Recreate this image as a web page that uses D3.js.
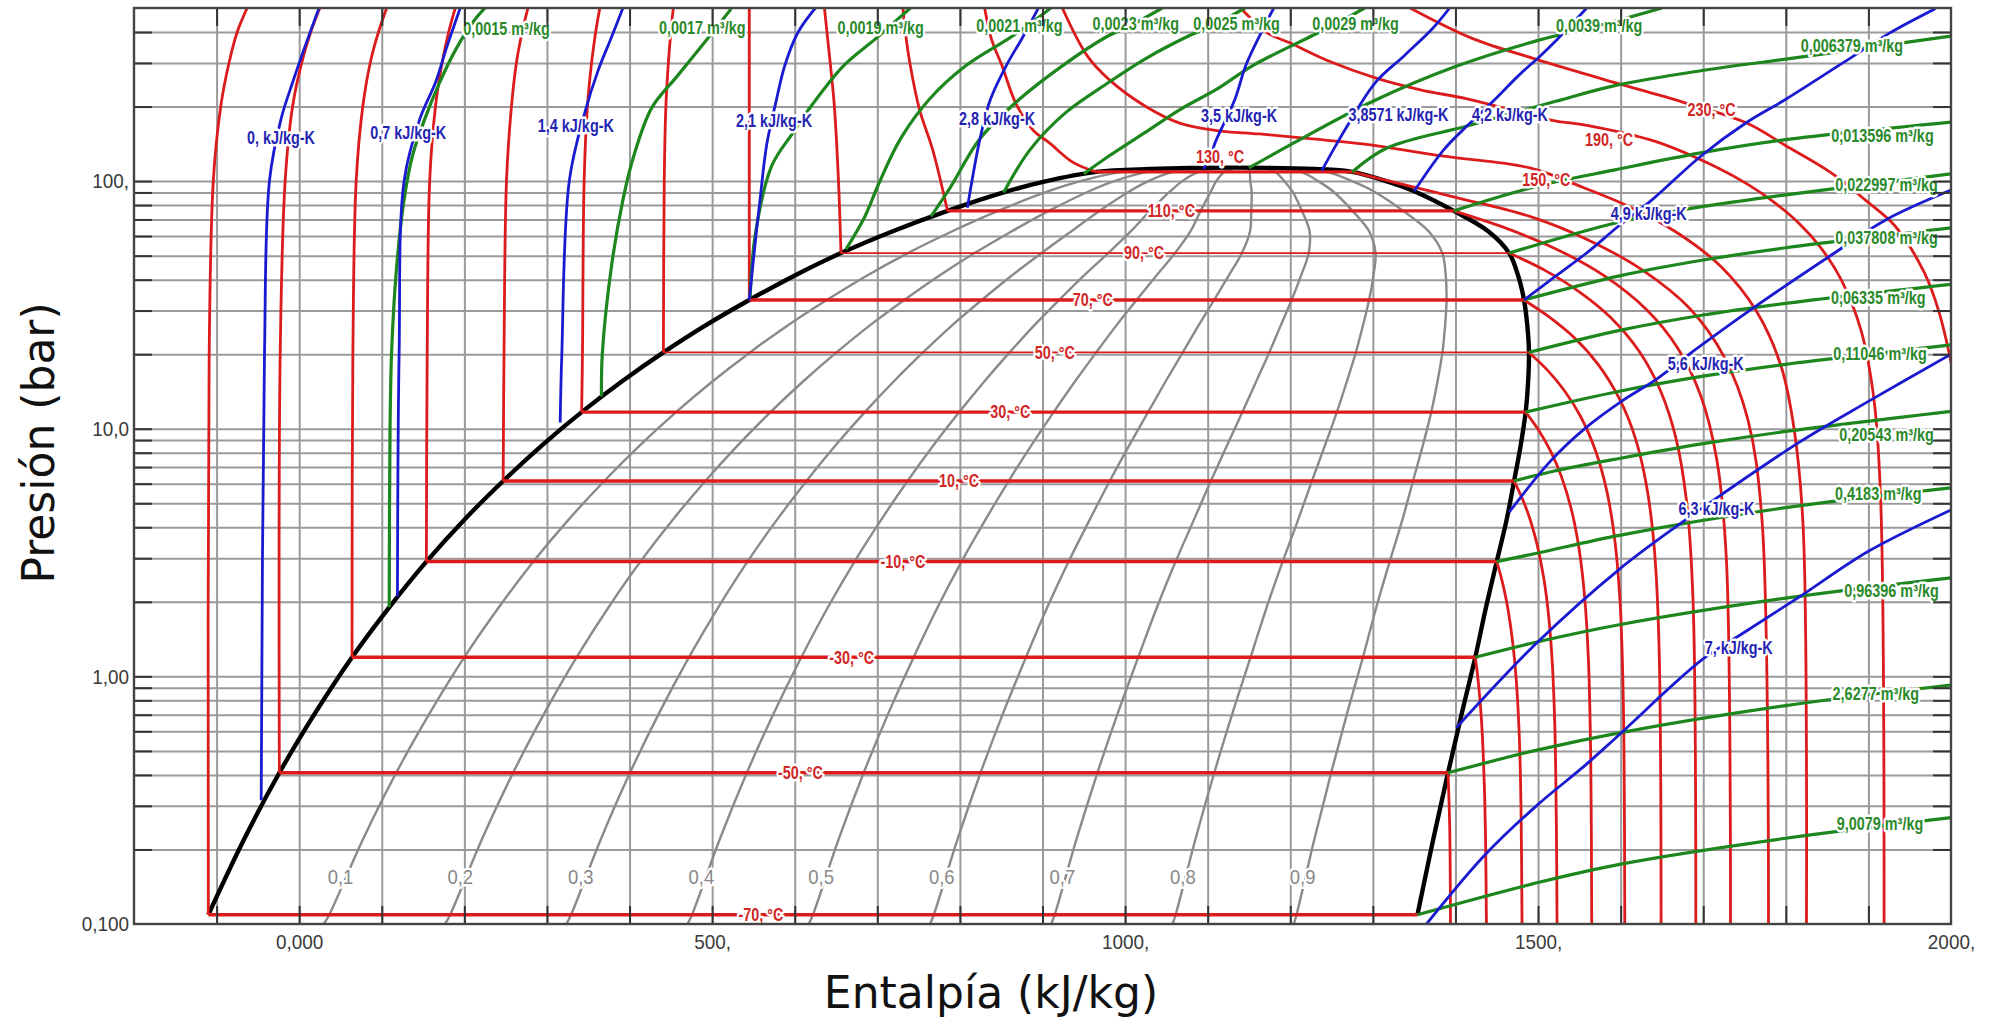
<!DOCTYPE html>
<html>
<head>
<meta charset="utf-8">
<script src="https://cdn.jsdelivr.net/npm/d3@7"></script>
<style>
  body { margin: 0; background: #fff; }
  svg { display: block; }
  .lbl {
    font-family: "Liberation Sans", Arial, sans-serif;
    font-weight: bold;
    font-size: 18px;
    paint-order: stroke;
    stroke: #fff;
    stroke-width: 5px;
    stroke-linejoin: round;
  }
  .tick text {
    font-family: "Liberation Sans", Arial, sans-serif;
    font-size: 21px;
    fill: #3a3a3a;
  }
</style>
</head>
<body>
<div id="chart"></div>
<script>
// saturation table: [T °C, P bar, h liquid, h vapour]
const satTable = [
  [-71.7, 0.1, -117, 1351],
  [-70, 0.109, -110, 1354],
  [-60, 0.219, -67, 1373],
  [-50, 0.408, -24, 1391],
  [-40, 0.717, 20, 1408],
  [-30, 1.195, 64, 1424],
  [-20, 1.901, 109, 1437],
  [-10, 2.908, 154, 1450],
  [0, 4.294, 200, 1462],
  [10, 6.15, 247, 1471],
  [20, 8.57, 294, 1479],
  [30, 11.67, 342, 1485],
  [40, 15.55, 391, 1488],
  [50, 20.33, 441, 1489],
  [60, 26.14, 492, 1487],
  [70, 33.1, 545, 1483],
  [80, 41.4, 599, 1476],
  [90, 51.2, 656, 1465],
  [100, 62.6, 718, 1440],
  [110, 75.8, 785, 1398],
  [120, 91.0, 858, 1350],
  [125, 99.5, 902, 1318],
  [130, 108.9, 965, 1275],
  [131.5, 111.9, 1030, 1230],
  [132.25, 113.3, 1130, 1130]
];

const qualities = [0.1, 0.2, 0.3, 0.4, 0.5, 0.6, 0.7, 0.8, 0.9];
const qualityLabels = [
  ['0,1', 50, 0.155], ['0,2', 195, 0.155], ['0,3', 341, 0.155], ['0,4', 487, 0.155],
  ['0,5', 632, 0.155], ['0,6', 778, 0.155], ['0,7', 924, 0.155], ['0,8', 1070, 0.155],
  ['0,9', 1215, 0.155]
];

// isotherms, compressed-liquid branch (from saturated liquid upward)
const tempLiquid = [
  [-70, [[-110, 0.109], [-109, 20], [-104, 100], [-95, 200], [-85, 300], [-75, 400], [-63, 500]]],
  [-50, [[-24, 0.408], [-23, 20], [-17, 100], [-8, 200], [3, 300], [14, 400], [25, 500]]],
  [-30, [[64, 1.195], [65, 20], [69, 100], [77, 200], [86, 300], [96, 400], [106, 500]]],
  [-10, [[154, 2.908], [155, 20], [158, 100], [165, 200], [173, 300], [181, 400], [189, 500]]],
  [10, [[247, 6.15], [248, 20], [251, 100], [257, 200], [263, 300], [270, 400], [277, 500]]],
  [30, [[342, 11.67], [343, 20], [345, 100], [349, 200], [354, 300], [359, 400], [364, 500]]],
  [50, [[441, 20.33], [442, 100], [444, 200], [447, 300], [450, 400], [453, 500]]],
  [70, [[545, 33.1], [545, 100], [545, 500]]],
  [90, [[656, 51.2], [653, 100], [648, 200], [643, 300], [639, 400], [636, 500]]],
  [110, [[785, 75.8], [767, 134], [751, 195], [740, 292], [734, 399], [731, 500]]],
  [130, [[965, 108.9], [937, 119], [908, 143], [889, 160], [868, 205], [851, 292], [838, 376], [830, 500]]]
];

// isotherms, superheated vapour branch (from saturated vapour downward)
const tempVapor = [
  [-50, [[1391, 0.408], [1393, 0.25], [1394, 0.1]]],
  [-30, [[1424, 1.195], [1426.7, 1.016], [1429.2, 0.837], [1431.6, 0.657], [1433.7, 0.478], [1435.3, 0.335], [1436.5, 0.215], [1437.5, 0.1]]],
  [-10, [[1450, 2.908], [1455.9, 2.47], [1461.5, 2.04], [1466.7, 1.6], [1471.6, 1.163], [1475.1, 0.814], [1477.7, 0.523], [1479.4, 0.291], [1480.6, 0.1]]],
  [10, [[1471, 6.15], [1480.9, 5.23], [1490.3, 4.31], [1499.1, 3.38], [1507.2, 2.46], [1513.1, 1.72], [1517.4, 1.107], [1520.4, 0.615], [1522.2, 0.246], [1523, 0.1]]],
  [30, [[1485, 11.67], [1500.2, 9.92], [1514.7, 8.17], [1528.2, 6.42], [1540.7, 4.67], [1549.7, 3.27], [1556.4, 2.1], [1561, 1.167], [1563.8, 0.467], [1565, 0.1]]],
  [50, [[1489, 20.33], [1511.1, 17.28], [1532, 14.23], [1551.7, 11.18], [1569.7, 8.13], [1582.8, 5.69], [1592.5, 3.66], [1599.2, 2.03], [1603.2, 0.813], [1605, 0.1]]],
  [70, [[1483, 33.1], [1514.6, 28.1], [1544.6, 23.2], [1572.7, 18.2], [1598.6, 13.2], [1617.3, 9.27], [1631.1, 5.96], [1640.7, 3.31], [1646.5, 1.32], [1649, 0.1]]],
  [90, [[1465, 51.2], [1508.9, 43.5], [1549.5, 35.8], [1587.6, 28.2], [1622.6, 20.5], [1648, 14.3], [1666.8, 9.2], [1679.7, 5.12], [1687.6, 2.05], [1691, 0.1]]],
  [110, [[1398, 75.8], [1461.8, 64.4], [1522.3, 53.1], [1579, 41.7], [1631.2, 30.3], [1669, 21.2], [1697, 13.6], [1716.2, 7.58], [1727.9, 3.03], [1733, 0.1]]],
  [130, [[1275, 108.9], [1320, 100], [1400, 86], [1490, 72], [1560, 58], [1627, 43.6], [1684, 30.5], [1725, 19.6], [1754, 10.9], [1771, 4.36], [1779, 0.1]]]
];

// supercritical isotherms
const tempSuper = [
  [150, [[924, 500], [954, 321], [980, 258], [1024, 201], [1067, 171], [1111, 160], [1163, 155], [1227, 148], [1290, 141], [1386, 126], [1490, 113], [1552, 95], [1610, 79], [1668, 62], [1722, 45], [1764, 30], [1794, 18], [1810, 10], [1821, 4], [1825, 0.1]]],
  [190, [[1140, 500], [1172, 397], [1200, 361], [1248, 304], [1303, 261], [1359, 233], [1414, 215], [1517, 176], [1559, 168], [1641, 145], [1718, 113], [1754, 97], [1784, 83], [1817, 67], [1842, 54], [1867, 40], [1891, 25], [1907, 12.9], [1915, 5], [1919, 0.1]]],
  [230, [[1345, 500], [1421, 376], [1497, 311], [1593, 250], [1676, 208], [1752, 172], [1800, 139], [1855, 108], [1896, 84], [1932, 66], [1968, 42.5], [1985, 30], [1998, 20], [2010, 12]]]
];

const tempLabels = [
  ['-70, °C', 559, 0.109], ['-50, °C', 607, 0.408], ['-30, °C', 669, 1.195],
  ['-10, °C', 731, 2.908], ['10, °C', 799, 6.15], ['30, °C', 861, 11.67],
  ['50, °C', 915, 20.33], ['70, °C', 961, 33.1], ['90, °C', 1023, 51.2],
  ['110, °C', 1056, 75.8], ['130, °C', 1115, 126], ['150, °C', 1510, 101],
  ['190, °C', 1586, 147], ['230, °C', 1710, 195]
];

// constant entropy lines (kJ/kg-K)
const entropyLines = [
  [0, [[-46, 0.316], [-42, 20], [-36, 100], [-22, 178], [-8, 250], [6, 342], [24, 500]]],
  [0.7, [[119, 2.1], [121, 20], [127, 100], [146, 178], [165, 250], [178, 342], [195, 500]]],
  [1.4, [[316, 10.6], [318, 20], [327, 100], [346, 190], [362, 280], [378, 380], [392, 500]]],
  [2.1, [[545, 33.1], [553, 60], [558, 84], [566, 140], [577, 207], [588, 293], [604, 399], [625, 500]]],
  [2.8, [[809, 78], [820, 126], [826, 157], [837, 214], [856, 292], [876, 381], [895, 500]]],
  [3.5, [[1095, 112], [1105, 130], [1109, 143], [1133, 214], [1146, 292], [1163, 387], [1180, 500]]],
  [3.8571, [[1238, 110], [1255, 139], [1269, 167], [1303, 250], [1338, 321], [1372, 412], [1393, 500]]],
  [4.2, [[1350, 91], [1386, 134], [1414, 167], [1448, 214], [1476, 266], [1503, 321], [1524, 376], [1559, 500]]],
  [4.9, [[1483, 33.1], [1520, 41], [1558, 51], [1598, 66], [1638, 84], [1697, 126], [1752, 172], [1800, 214], [1869, 300], [1925, 395], [1981, 497]]],
  [5.6, [[1465, 4.6], [1515, 7.4], [1558, 10.1], [1601, 12.9], [1644, 15.9], [1690, 20.8], [1756, 30], [1858, 51], [1922, 70], [2000, 92]]],
  [6.3, [[1401, 0.62], [1498, 1.36], [1598, 2.7], [1674, 4.18], [1720, 5.36], [1817, 8.85], [1900, 12.9], [2000, 20]]],
  [7, [[1365, 0.1], [1435, 0.189], [1498, 0.3], [1558, 0.44], [1598, 0.58], [1699, 1.17], [1749, 1.5], [1817, 2.1], [1900, 3.2], [2000, 4.7]]]
];

const entropyLabels = [
  ['0, kJ/kg-K', -22, 150], ['0,7 kJ/kg-K', 132, 157], ['1,4 kJ/kg-K', 335, 167],
  ['2,1 kJ/kg-K', 575, 175], ['2,8 kJ/kg-K', 845, 178], ['3,5 kJ/kg-K', 1138, 183],
  ['3,8571 kJ/kg-K', 1331, 186], ['4,2 kJ/kg-K', 1466, 186], ['4,9 kJ/kg-K', 1634, 74],
  ['5,6 kJ/kg-K', 1703, 18.3], ['6,3 kJ/kg-K', 1716, 4.75], ['7, kJ/kg-K', 1743, 1.31]
];

// constant specific volume lines (m³/kg)
const volumeLines = [
  [0.0015, [[109, 1.9], [110, 10], [112, 20.8], [118, 45], [127, 84], [137, 126], [152, 178], [170, 250], [190, 342], [213, 450], [225, 500]]],
  [0.0017, [[366, 13.5], [367, 20], [378, 45], [392, 84], [405, 126], [427, 198], [458, 266], [491, 364], [523, 496]]],
  [0.0019, [[546, 34], [552, 60], [572, 115], [598, 157], [620, 201], [659, 292], [698, 376], [740, 500]]],
  [0.0021, [[662, 53], [685, 72], [702, 98], [728, 148], [763, 214], [807, 292], [859, 376], [882, 424], [910, 500]]],
  [0.0023, [[765, 72], [789, 95], [824, 148], [872, 214], [924, 292], [976, 380], [1010, 431], [1045, 500]]],
  [0.0025, [[853, 90], [885, 134], [928, 189], [980, 250], [1024, 311], [1078, 387], [1110, 431], [1145, 500]]],
  [0.0029, [[950, 107], [980, 126], [1024, 157], [1067, 195], [1111, 235], [1154, 292], [1227, 387], [1255, 431], [1290, 500]]],
  [0.0039, [[1150, 113], [1200, 140], [1300, 210], [1400, 290], [1500, 370], [1574, 425], [1650, 500]]],
  [0.006379, [[1275, 108.9], [1317, 136], [1414, 167], [1517, 208], [1593, 243], [1697, 279], [1800, 311], [2000, 385]]],
  [0.013596, [[1398, 75.8], [1497, 95], [1593, 111], [1697, 130], [1800, 147], [2000, 173]]],
  [0.022997, [[1465, 51.2], [1600, 68.5], [1700, 79], [1800, 88], [2000, 107]]],
  [0.037808, [[1483, 33.1], [1600, 41.5], [1700, 48], [1800, 53.8], [2000, 64.7]]],
  [0.06335, [[1489, 20.33], [1600, 25], [1700, 28.8], [1800, 32.1], [2000, 38.3]]],
  [0.11046, [[1485, 11.67], [1600, 14.2], [1700, 16.3], [1800, 18.2], [2000, 21.8]]],
  [0.20543, [[1471, 6.15], [1520, 6.75], [1600, 7.6], [1700, 8.7], [1800, 9.75], [2000, 11.76]]],
  [0.4183, [[1450, 2.908], [1500, 3.15], [1600, 3.72], [1800, 4.8], [2000, 5.77]]],
  [0.96396, [[1424, 1.195], [1500, 1.38], [1600, 1.62], [1800, 2.07], [2000, 2.5]]],
  [2.6277, [[1391, 0.408], [1500, 0.505], [1600, 0.593], [1800, 0.762], [2000, 0.923]]],
  [9.0079, [[1354, 0.109], [1500, 0.147], [1600, 0.1745], [1800, 0.222], [2000, 0.269]]]
];

const volumeLabels = [
  ['0,0015 m³/kg', 251, 412], ['0,0017 m³/kg', 488, 418], ['0,0019 m³/kg', 704, 418],
  ['0,0021 m³/kg', 872, 424], ['0,0023 m³/kg', 1013, 431], ['0,0025 m³/kg', 1135, 431],
  ['0,0029 m³/kg', 1279, 431], ['0,0039 m³/kg', 1574, 425], ['0,006379 m³/kg', 1880, 353],
  ['0,013596 m³/kg', 1917, 152], ['0,022997 m³/kg', 1922, 97], ['0,037808 m³/kg', 1922, 59],
  ['0,06335 m³/kg', 1912, 33.7], ['0,11046 m³/kg', 1914, 20], ['0,20543 m³/kg', 1922, 9.5],
  ['0,4183 m³/kg', 1912, 5.46], ['0,96396 m³/kg', 1928, 2.22], ['2,6277 m³/kg', 1909, 0.85],
  ['9,0079 m³/kg', 1914, 0.255]
];

const xTicks = [0, 500, 1000, 1500, 2000];
const xTickLabels = ['0,000', '500,', '1000,', '1500,', '2000,'];
const yTicks = [0.1, 1, 10, 100];
const yTickLabels = ['0,100', '1,00', '10,0', '100,'];

const W = 1993;
const H = 1025;
const red = '#dc1c1c';
const blue = '#1a1ad0';
const green = '#1d861d';

const x = d3.scaleLinear().domain([-200, 2000]).range([134, 1951]);
const y = d3.scaleLog().domain([0.1, 500]).range([924, 8]);
const x0 = x.range()[0];
const x1 = x.range()[1];
const yTop = y.range()[1];
const yBot = y.range()[0];

// squeeze text horizontally to look like the narrow face of the original
const narrow = (sel, k) => {
  sel.each(function () {
    const w = this.getComputedTextLength();
    d3.select(this).attr('textLength', w * k).attr('lengthAdjust', 'spacingAndGlyphs');
  });
};

const svg = d3.select('#chart')
  .append('svg')
  .attr('width', W)
  .attr('height', H);

svg.append('rect').attr('width', W).attr('height', H).attr('fill', '#fff');

svg.append('defs')
  .append('clipPath')
  .attr('id', 'plot-clip')
  .append('rect')
  .attr('x', x0)
  .attr('y', yTop)
  .attr('width', x1 - x0)
  .attr('height', yBot - yTop);

const xGrid = x.ticks(22).filter((d) => d > -200 && d < 2000);
const yGrid = y.ticks().filter((d) => d > 0.1 && d < 500);

// grid
const styleGrid = (g) => {
  g.select('.domain').remove();
  g.selectAll('.tick line').attr('stroke', '#9a9a9a').attr('stroke-width', 2);
};
svg.append('g')
  .attr('transform', `translate(0,${yBot})`)
  .call(d3.axisBottom(x).tickValues(xGrid).tickSize(-(yBot - yTop)).tickFormat(''))
  .call(styleGrid);
svg.append('g')
  .attr('transform', `translate(${x0},0)`)
  .call(d3.axisLeft(y).tickValues(yGrid).tickSize(-(x1 - x0)).tickFormat(''))
  .call(styleGrid);

const plot = svg.append('g').attr('clip-path', 'url(#plot-clip)');

const curve = d3.line()
  .x((d) => x(d[0]))
  .y((d) => y(d[1]))
  .curve(d3.curveCatmullRom.alpha(0.5));

const straight = d3.line()
  .x((d) => x(d[0]))
  .y((d) => y(d[1]));

// quality lines
qualities.forEach((q) => {
  const pts = satTable.map((r) => [r[2] + q * (r[3] - r[2]), r[1]]);
  plot.append('path')
    .attr('d', curve(pts))
    .attr('fill', 'none')
    .attr('stroke', '#8a8a8a')
    .attr('stroke-width', 2.4);
});

// saturation dome
const domeRows = satTable.filter((r) => r[0] >= -70);
const domePts = domeRows.map((r) => [r[2], r[1]])
  .concat(domeRows.slice(0, -1).reverse().map((r) => [r[3], r[1]]));
plot.append('path')
  .attr('d', curve(domePts))
  .attr('fill', 'none')
  .attr('stroke', '#000')
  .attr('stroke-width', 4.4);

// isotherms
const thinT = [50, 90];
tempLiquid.forEach(([t, pts]) => {
  plot.append('path')
    .attr('d', curve(pts))
    .attr('fill', 'none')
    .attr('stroke', red)
    .attr('stroke-width', 2.8);
  const row = satTable.find((r) => r[0] === t);
  plot.append('path')
    .attr('d', straight([[row[2], row[1]], [row[3], row[1]]]))
    .attr('fill', 'none')
    .attr('stroke', red)
    .attr('stroke-width', thinT.includes(t) ? 1.8 : 3.4);
});
tempVapor.concat(tempSuper).forEach(([, pts]) => {
  plot.append('path')
    .attr('d', curve(pts))
    .attr('fill', 'none')
    .attr('stroke', red)
    .attr('stroke-width', 2.8);
});

// specific volume
volumeLines.forEach(([, pts]) => {
  plot.append('path')
    .attr('d', curve(pts))
    .attr('fill', 'none')
    .attr('stroke', green)
    .attr('stroke-width', 3.2);
});

// entropy
entropyLines.forEach(([, pts]) => {
  plot.append('path')
    .attr('d', curve(pts))
    .attr('fill', 'none')
    .attr('stroke', blue)
    .attr('stroke-width', 2.8);
});

// labels on curves
const addLabels = (rows, color, size, weight, k) => {
  plot.selectAll(null)
    .data(rows)
    .enter()
    .append('text')
    .attr('class', 'lbl')
    .attr('x', (d) => x(d[1]))
    .attr('y', (d) => y(d[2]))
    .attr('dy', '0.35em')
    .attr('text-anchor', 'middle')
    .attr('fill', color)
    .style('font-size', `${size}px`)
    .style('font-weight', weight)
    .text((d) => d[0])
    .call(narrow, k);
};
addLabels(tempLabels, '#d02626', 18, 'bold', 0.8);
addLabels(entropyLabels, '#2424b2', 18, 'bold', 0.8);
addLabels(volumeLabels, '#2a892a', 18, 'bold', 0.8);
addLabels(qualityLabels, '#888', 21, 'normal', 0.88);

// frame and inward ticks
const styleTicks = (g) => {
  g.select('.domain').remove();
  g.selectAll('.tick line').attr('stroke', '#333').attr('stroke-width', 2);
};
svg.append('g').attr('transform', `translate(${x0},0)`)
  .call(d3.axisLeft(y).tickValues(yGrid).tickSize(-18).tickFormat('')).call(styleTicks);
svg.append('g').attr('transform', `translate(${x1},0)`)
  .call(d3.axisRight(y).tickValues(yGrid).tickSize(-18).tickFormat('')).call(styleTicks);
svg.append('g').attr('transform', `translate(0,${yBot})`)
  .call(d3.axisBottom(x).tickValues(xGrid).tickSize(-18).tickFormat('')).call(styleTicks);
svg.append('g').attr('transform', `translate(0,${yTop})`)
  .call(d3.axisTop(x).tickValues(xGrid).tickSize(-18).tickFormat('')).call(styleTicks);

svg.append('rect')
  .attr('x', x0)
  .attr('y', yTop)
  .attr('width', x1 - x0)
  .attr('height', yBot - yTop)
  .attr('fill', 'none')
  .attr('stroke', '#444')
  .attr('stroke-width', 2.4);

// tick labels
svg.append('g').attr('transform', `translate(${x0},0)`)
  .call(d3.axisLeft(y).tickValues(yTicks).tickSize(0).tickPadding(5)
    .tickFormat((d, i) => yTickLabels[i]))
  .call((g) => g.select('.domain').remove())
  .call((g) => g.selectAll('text').call(narrow, 0.9));
svg.append('g').attr('transform', `translate(0,${yBot})`)
  .call(d3.axisBottom(x).tickValues(xTicks).tickSize(0).tickPadding(10)
    .tickFormat((d, i) => xTickLabels[i]))
  .call((g) => g.select('.domain').remove())
  .call((g) => g.selectAll('text').call(narrow, 0.9));

// axis titles
svg.append('text')
  .attr('x', 991)
  .attr('y', 1008)
  .attr('text-anchor', 'middle')
  .style('font-family', '"DejaVu Sans", sans-serif')
  .style('font-size', '44px')
  .attr('fill', '#111')
  .text('Entalpía (kJ/kg)');

svg.append('text')
  .attr('transform', 'translate(54,443) rotate(-90)')
  .attr('text-anchor', 'middle')
  .style('font-family', '"DejaVu Sans", sans-serif')
  .style('font-size', '44px')
  .attr('fill', '#111')
  .text('Presión (bar)');
</script>
</body>
</html>
